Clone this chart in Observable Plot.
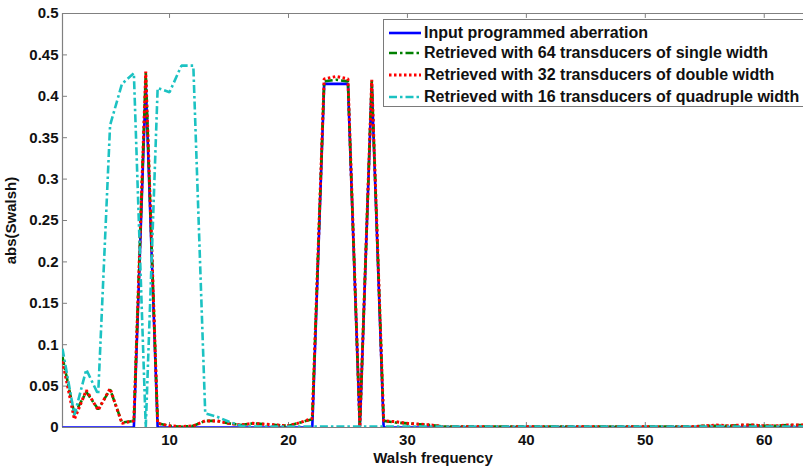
<!DOCTYPE html>
<html>
<head>
<meta charset="utf-8">
<script src="https://cdn.jsdelivr.net/npm/d3@7"></script>
<script src="https://cdn.jsdelivr.net/npm/@observablehq/plot@0.6"></script>
<style>
  html, body { margin: 0; padding: 0; background: #fff; }
  #wrap { position: relative; width: 803px; height: 468px; overflow: hidden; font-family: "Liberation Sans", Arial, sans-serif; }
  #legend { position: absolute; left: 383px; top: 19px; width: 440px; height: 88px; border: 1.5px solid #7a7a7a; background: #fff; box-sizing: border-box; }
  .row { position: absolute; left: 4px; height: 20px; display: flex; align-items: center; white-space: nowrap; font-weight: bold; font-size: 16px; color: #111; }
  .row svg { margin-right: 3px; }
</style>
</head>
<body>
<div id="wrap"></div>
<script>
// Walsh frequency index
const freq = [1,2,3,4,5,6,7,8,9,10,11,12,13,14,15,16,17,18,19,20,21,22,23,24,25,26,27,28,29,30,31,32,
              33,34,35,36,37,38,39,40,41,42,43,44,45,46,47,48,49,50,51,52,53,54,55,56,57,58,59,60,61,62,63,64];

// Input programmed aberration (blue)
const inputAberration = [0,0,0,0,0,0,0,0.415,0,0,0,0,0,0,0,0,0,0,0,0,0,0,0.415,0.415,0.415,0,0.415,0,0,0,0,0,
                         0,0,0,0,0,0,0,0,0,0,0,0,0,0,0,0,0,0,0,0,0,0,0,0,0,0,0,0,0,0,0,0];

// Retrieved with 64 transducers of single width (green)
const retrieved64 = [0.085,0.016,0.043,0.022,0.046,0.006,0.008,0.428,0.005,0.002,0.001,0.002,0.008,0.008,0.005,0.003,
                     0.005,0.004,0.003,0.002,0.006,0.010,0.418,0.420,0.418,0.001,0.419,0.008,0.006,0.005,0.004,0.003,
                     0.001,0.001,0.001,0.001,0.001,0.001,0.001,0.001,0.001,0.001,0.001,0.001,0.001,0.001,0.001,0.001,
                     0.001,0.001,0.001,0.001,0.001,0.001,0.002,0.002,0.002,0.003,0.003,0.002,0.002,0.003,0.003,0.003];

// Retrieved with 32 transducers of double width (red)
const retrieved32 = [0.080,0.010,0.045,0.021,0.047,0.005,0.008,0.430,0.005,0.002,0.001,0.002,0.008,0.008,0.005,0.003,
                     0.005,0.004,0.003,0.002,0.006,0.011,0.421,0.424,0.421,0.001,0.420,0.008,0.007,0.005,0.004,0.003,
                     0.001,0.001,0.001,0.001,0.001,0.001,0.001,0.001,0.001,0.001,0.001,0.001,0.001,0.001,0.001,0.001,
                     0.001,0.001,0.001,0.001,0.001,0.001,0.002,0.003,0.002,0.003,0.003,0.002,0.002,0.003,0.003,0.003];

// Retrieved with 16 transducers of quadruple width (cyan)
const retrieved16 = [0.095,0.015,0.070,0.040,0.365,0.415,0.428,0.000,0.410,0.405,0.437,0.437,0.017,0.013,0.007,0.002,
                     0.001,0.001,0.001,0.001,0.001,0.001,0.001,0.001,0.001,0.001,0.001,0.001,0.001,0.001,0.001,0.001,
                     0.001,0.001,0.001,0.001,0.001,0.001,0.001,0.001,0.001,0.001,0.001,0.001,0.001,0.001,0.001,0.001,
                     0.001,0.001,0.001,0.001,0.001,0.001,0.001,0.001,0.001,0.001,0.001,0.001,0.001,0.001,0.001,0.001];

const seriesNames = [
  "Input programmed aberration",
  "Retrieved with 64 transducers of single width",
  "Retrieved with 32 transducers of double width",
  "Retrieved with 16 transducers of quadruple width"
];
const seriesValues = [inputAberration, retrieved64, retrieved32, retrieved16];
const seriesStyles = [
  {stroke: "#0000ff", strokeWidth: 2.6, dash: null},
  {stroke: "#008000", strokeWidth: 2.6, dash: "8,3,2.5,3"},
  {stroke: "#ff0000", strokeWidth: 3, dash: "2.5,2.5"},
  {stroke: "#1cc2c2", strokeWidth: 2.6, dash: "8,3,2.5,3"}
];

const xTicks = [10, 20, 30, 40, 50, 60];
const yTicks = [0, 0.05, 0.1, 0.15, 0.2, 0.25, 0.3, 0.35, 0.4, 0.45, 0.5];

const rows = seriesNames.map((name, s) => freq.map((f, i) => ({series: name, f, v: seriesValues[s][i]})));

const frameColor = "#808080";

const plot = Plot.plot({
  width: 803,
  height: 468,
  marginLeft: 62,
  marginRight: 0,
  marginTop: 13,
  marginBottom: 41,
  style: {fontFamily: "'Liberation Sans', Arial, sans-serif", fontSize: "15px", fontWeight: "bold", color: "#111", background: "#fff"},
  x: {domain: [1, 63.3]},
  y: {domain: [0, 0.5]},
  marks: [
    // frame (top, left, bottom)
    Plot.ruleY([0.5], {stroke: frameColor, strokeWidth: 1.2}),
    Plot.ruleY([0], {stroke: frameColor, strokeWidth: 1.2}),
    Plot.ruleX([1], {stroke: frameColor, strokeWidth: 1.2}),
    // inward ticks
    Plot.ruleX(xTicks, {x: d => d, y1: 0, y2: 0.006, stroke: frameColor}),
    Plot.ruleX(xTicks, {x: d => d, y1: 0.494, y2: 0.5, stroke: frameColor}),
    Plot.ruleY(yTicks, {y: d => d, x1: 1, x2: 1.42, stroke: frameColor}),
    Plot.axisX(xTicks, {tickSize: 0, tickPadding: 7, tickFormat: d => String(d), label: "Walsh frequency", labelAnchor: "center", labelOffset: 35, labelArrow: "none"}),
    Plot.axisY(yTicks, {tickSize: 0, tickPadding: 4, tickFormat: d => String(+d.toFixed(2)), label: "abs(Swalsh)", labelAnchor: "center", labelOffset: 57, labelArrow: "none"}),
    ...rows.map((data, s) => Plot.line(data, {
      x: "f", y: "v",
      stroke: seriesStyles[s].stroke,
      strokeWidth: seriesStyles[s].strokeWidth,
      strokeDasharray: seriesStyles[s].dash,
      strokeLinecap: "butt",
      strokeLinejoin: "miter",
      clip: true
    }))
  ]
});

const wrap = document.getElementById("wrap");
wrap.appendChild(plot);

// legend
const legend = document.createElement("div");
legend.id = "legend";
const rowTops = [3, 23, 45, 67];
seriesNames.forEach((name, s) => {
  const r = document.createElement("div");
  r.className = "row";
  r.style.top = rowTops[s] + "px";
  const st = seriesStyles[s];
  r.innerHTML = `<svg width="33" height="10"><line x1="1" y1="5" x2="33" y2="5" stroke="${st.stroke}" stroke-width="${st.strokeWidth}" ${st.dash ? `stroke-dasharray="${st.dash}"` : ""}/></svg><span>${name}</span>`;
  legend.appendChild(r);
});
wrap.appendChild(legend);
</script>
</body>
</html>
